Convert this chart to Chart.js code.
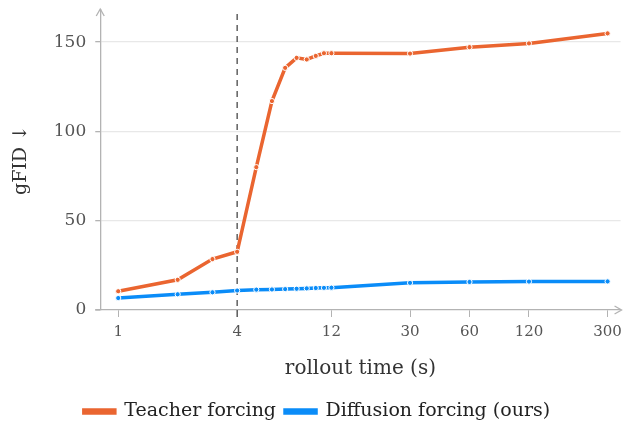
<!DOCTYPE html>
<html>
<head>
<meta charset="utf-8">
<script src="https://cdn.jsdelivr.net/npm/chart.js@4/dist/chart.umd.min.js"></script>
<style>
  html, body { margin: 0; padding: 0; background: #fff; }
  #wrap { width: 628px; height: 423px; }
</style>
</head>
<body>
<div id="wrap"><canvas id="fidChart"></canvas></div>
<script>
// rollout times (s), log x axis
var times = [1, 2, 3, 4, 5, 6, 7, 8, 9, 10, 11, 12, 30, 60, 120, 300];
var teacherForcing = [10.5, 16.9, 28.5, 32.6, 80, 117, 135.6, 141.2, 140.3, 142.3, 143.8, 143.8, 143.6, 147.2, 149.3, 154.9];
var diffusionForcing = [6.7, 8.8, 9.9, 10.9, 11.4, 11.5, 11.7, 11.9, 12.1, 12.3, 12.4, 12.5, 15.2, 15.7, 15.9, 16.0];
var xTicks = [1, 4, 12, 30, 60, 120, 300];
var yTicks = [0, 50, 100, 150];
var markerX = 4; // dashed line

var serif = "'DejaVu Serif', serif";
var axisGray = "#b3b3b3";

function pts(ys) {
  return times.map(function (t, i) { return { x: t, y: ys[i] }; });
}

// dashed line at 4s + arrow heads on the axes
var extras = {
  id: "extras",
  beforeDatasetsDraw: function (chart) {
    var ctx = chart.ctx, a = chart.chartArea;
    var x = chart.scales.x.getPixelForValue(markerX);
    ctx.save();
    ctx.strokeStyle = "#555";
    ctx.lineWidth = 1.4;
    ctx.setLineDash([6, 5]);
    ctx.beginPath();
    ctx.moveTo(x, a.top + 4);
    ctx.lineTo(x, a.bottom);
    ctx.stroke();
    ctx.setLineDash([]);
    ctx.beginPath();
    ctx.moveTo(x, a.bottom);
    ctx.lineTo(x, a.bottom + 7);
    ctx.stroke();
    // x axis line runs a little past the y axis
    ctx.strokeStyle = axisGray;
    ctx.lineWidth = 1.3;
    ctx.beginPath();
    ctx.moveTo(a.left - 5, a.bottom);
    ctx.lineTo(a.left, a.bottom);
    ctx.stroke();
    ctx.restore();
  },
  afterDraw: function (chart) {
    var ctx = chart.ctx, a = chart.chartArea;
    ctx.save();
    ctx.strokeStyle = axisGray;
    ctx.lineWidth = 1.3;
    ctx.beginPath();
    // y arrow
    ctx.moveTo(a.left - 4, a.top + 6);
    ctx.lineTo(a.left, a.top - 1);
    ctx.lineTo(a.left + 4, a.top + 6);
    // x arrow
    ctx.moveTo(a.right - 6, a.bottom - 4);
    ctx.lineTo(a.right + 1, a.bottom);
    ctx.lineTo(a.right - 6, a.bottom + 4);
    ctx.stroke();
    ctx.restore();
  }
};

var chart = new Chart(document.getElementById("fidChart"), {
  type: "line",
  data: {
    datasets: [
      {
        label: "Teacher forcing",
        data: pts(teacherForcing),
        borderColor: "#ea6530",
        backgroundColor: "#ea6530",
        borderWidth: 3.5,
        pointRadius: 2.6,
        pointBorderColor: "#fff",
        pointBorderWidth: 1,
        pointBackgroundColor: "#ea6530",
        tension: 0
      },
      {
        label: "Diffusion forcing (ours)",
        data: pts(diffusionForcing),
        borderColor: "#0a8cf8",
        backgroundColor: "#0a8cf8",
        borderWidth: 3.5,
        pointRadius: 2.6,
        pointBorderColor: "#fff",
        pointBorderWidth: 1,
        pointBackgroundColor: "#0a8cf8",
        tension: 0
      }
    ]
  },
  options: {
    responsive: true,
    maintainAspectRatio: false,
    animation: false,
    layout: { autoPadding: false, padding: { left: 10, right: 4, top: 10, bottom: -8 } },
    plugins: {
      legend: {
        position: "bottom",
        labels: {
          font: { family: serif, size: 19 },
          color: "#222",
          boxWidth: 31,
          boxHeight: 3,
          padding: 9
        }
      },
      tooltip: { enabled: false }
    },
    scales: {
      x: {
        type: "logarithmic",
        min: 0.811,
        max: 349,
        afterBuildTicks: function (axis) {
          axis.ticks = xTicks.map(function (v) { return { value: v }; });
        },
        ticks: {
          font: { family: serif, size: 15 },
          color: "#555",
          maxRotation: 0,
          autoSkip: false,
          padding: 6,
          callback: function (v) { return String(v); }
        },
        grid: {
          drawOnChartArea: false,
          drawTicks: true,
          tickLength: 7,
          tickColor: axisGray
        },
        border: { color: axisGray, width: 1.3 },
        title: {
          display: true,
          text: "rollout time (s)",
          font: { family: serif, size: 20 },
          color: "#333",
          padding: { top: 10, bottom: 12 }
        }
      },
      y: {
        min: 0,
        max: 168,
        afterBuildTicks: function (axis) {
          axis.ticks = yTicks.map(function (v) { return { value: v }; });
        },
        afterFit: function (axis) {
          axis.paddingTop = 0; // plot area goes right up to the arrow
        },
        ticks: {
          font: { family: serif, size: 17 },
          color: "#555",
          padding: 9
        },
        grid: {
          color: function (c) { return c.tick && c.tick.value === 0 ? "rgba(0,0,0,0)" : "#e8e8e8"; },
          lineWidth: 1.3,
          tickLength: 5,
          tickColor: axisGray
        },
        border: { color: axisGray, width: 1.3 },
        title: {
          display: true,
          text: "gFID ↓",
          font: { family: serif, size: 19 },
          color: "#333",
          padding: { top: 0, bottom: 12 }
        }
      }
    }
  },
  plugins: [extras]
});
</script>
</body>
</html>
